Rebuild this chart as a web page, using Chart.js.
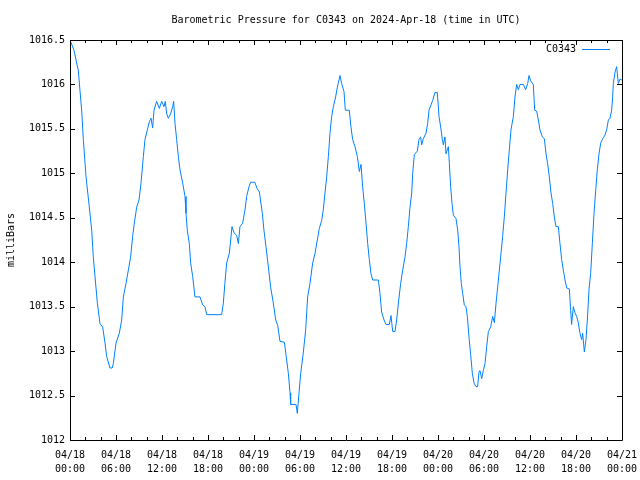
<!DOCTYPE html>
<html><head><meta charset="utf-8">
<script src="https://cdn.jsdelivr.net/npm/chart.js@4"></script>
<style>html,body{margin:0;padding:0;background:#fff}#wrap{width:640px;height:480px}</style>
</head><body><div id="wrap"><canvas id="c" width="640" height="480"></canvas></div>
<script>
const seriesName = 'C0343';
const titleText = 'Barometric Pressure for C0343 on 2024-Apr-18 (time in UTC)';
const yAxisLabel = 'milliBars';
// hours since 2024-04-18 00:00 UTC
const hours = [0,0.5,1.08,1.52,1.74,2.09,2.52,2.83,3.04,3.26,3.57,3.91,4.26,4.57,4.78,5.22,5.5,5.65,6,6.43,6.74,6.96,7.3,7.61,7.91,8.17,8.39,8.7,9,9.26,9.57,9.78,10.09,10.35,10.57,10.78,10.96,11.3,11.65,11.96,12.26,12.43,12.61,12.83,13.13,13.39,13.52,13.7,13.91,14.13,14.35,14.7,15,15.13,15.3,15.56,15.74,16,16.3,16.96,17.3,17.6,17.83,19.78,20,20.2,20.43,20.78,20.96,21.13,21.4,21.74,21.96,22.17,22.52,22.83,23.04,23.35,23.57,24.1,24.4,24.7,25.09,25.3,25.57,25.87,26.17,26.52,26.83,27.09,27.39,27.96,28.26,28.48,28.7,28.78,29.48,29.65,29.87,30.09,30.43,30.74,31,31.3,31.65,31.96,32.26,32.52,32.83,33.04,33.26,33.48,33.7,33.91,34.13,34.35,34.65,34.87,35.09,35.22,35.43,35.74,35.91,36.43,36.65,36.87,37.17,37.48,37.74,37.96,38.17,38.39,38.61,38.83,39.04,39.26,39.48,40.22,40.43,40.65,40.96,41.22,41.65,41.87,42.09,42.39,42.61,42.83,43.13,43.39,43.7,43.91,44.13,44.35,44.57,44.7,44.91,45.3,45.52,45.74,45.87,46.09,46.43,46.65,46.83,47.09,47.3,47.61,47.91,48.13,48.35,48.57,48.7,48.91,49.04,49.35,49.48,49.65,49.83,50,50.35,50.57,50.74,50.87,51.04,51.22,51.43,51.65,51.83,52.04,52.26,52.48,52.7,52.96,53.17,53.35,53.48,53.7,53.91,54.13,54.35,54.57,54.87,55.13,55.35,55.57,55.78,56,56.22,56.43,56.65,56.87,57.09,57.3,57.52,57.83,58.04,58.26,58.48,58.7,59.13,59.43,59.7,59.87,60.09,60.43,60.61,60.87,61.09,61.3,61.61,61.87,62.09,62.3,62.52,62.74,62.96,63.17,63.39,63.7,63.91,64.13,64.35,64.57,64.78,65.13,65.3,65.43,65.65,65.87,66.09,66.3,66.52,66.74,66.87,67.09,67.3,67.48,67.7,67.91,68.13,68.35,68.57,68.78,69,69.22,69.48,69.78,70,70.22,70.43,70.65,70.78,70.87,71.09,71.3,71.52,71.74,72];
const pressure = [1016.5,1016.39,1016.16,1015.71,1015.38,1014.96,1014.62,1014.36,1014.06,1013.84,1013.54,1013.31,1013.27,1013.09,1012.94,1012.81,1012.81,1012.86,1013.09,1013.2,1013.35,1013.61,1013.76,1013.91,1014.06,1014.29,1014.44,1014.62,1014.7,1014.89,1015.19,1015.38,1015.49,1015.58,1015.62,1015.51,1015.71,1015.81,1015.73,1015.81,1015.75,1015.81,1015.67,1015.62,1015.67,1015.75,1015.81,1015.56,1015.38,1015.19,1015.04,1014.89,1014.74,1014.55,1014.36,1014.21,1013.99,1013.84,1013.61,1013.61,1013.52,1013.5,1013.41,1013.41,1013.54,1013.76,1013.99,1014.1,1014.25,1014.4,1014.33,1014.3,1014.21,1014.4,1014.44,1014.59,1014.74,1014.85,1014.9,1014.9,1014.83,1014.79,1014.55,1014.36,1014.17,1013.95,1013.72,1013.54,1013.35,1013.29,1013.11,1013.1,1012.9,1012.75,1012.53,1012.4,1012.4,1012.3,1012.53,1012.75,1012.98,1013.24,1013.61,1013.76,1013.99,1014.1,1014.25,1014.38,1014.47,1014.59,1014.78,1014.96,1015.19,1015.45,1015.64,1015.75,1015.86,1015.97,1016.05,1016.1,1016.01,1015.92,1015.71,1015.71,1015.52,1015.38,1015.3,1015.19,1015.02,1015.1,1014.85,1014.66,1014.44,1014.21,1014.03,1013.87,1013.8,1013.8,1013.65,1013.44,1013.35,1013.3,1013.3,1013.4,1013.22,1013.22,1013.35,1013.54,1013.76,1013.91,1014.06,1014.21,1014.4,1014.62,1014.78,1015,1015.21,1015.25,1015.38,1015.41,1015.32,1015.39,1015.45,1015.56,1015.71,1015.77,1015.82,1015.91,1015.91,1015.64,1015.52,1015.38,1015.32,1015.41,1015.22,1015.3,1015.11,1014.85,1014.66,1014.53,1014.49,1014.36,1014.17,1013.95,1013.76,1013.65,1013.52,1013.5,1013.39,1013.16,1012.96,1012.75,1012.64,1012.6,1012.6,1012.77,1012.78,1012.69,1012.78,1012.86,1013.05,1013.22,1013.27,1013.39,1013.32,1013.54,1013.72,1013.91,1014.1,1014.29,1014.51,1014.78,1015.04,1015.26,1015.49,1015.64,1015.86,1016,1015.94,1016,1016,1015.94,1016.01,1016.1,1016.04,1016,1015.71,1015.7,1015.6,1015.49,1015.41,1015.39,1015.22,1015.11,1014.96,1014.78,1014.66,1014.51,1014.4,1014.4,1014.21,1014.03,1013.91,1013.8,1013.71,1013.7,1013.46,1013.3,1013.5,1013.43,1013.39,1013.32,1013.2,1013.13,1013.2,1012.99,1013.13,1013.35,1013.7,1013.87,1014.21,1014.55,1014.81,1015.04,1015.22,1015.34,1015.39,1015.43,1015.49,1015.6,1015.62,1015.71,1015.86,1016.01,1016.14,1016.2,1016.01,1016.06,1016.05];
const xMin = 0, xMax = 72, xMajorStep = 6, xMinorStep = 2;
const yMin = 1012, yMax = 1016.5, yStep = 0.5;
const startDay = 18;

const FONT = 'DejaVu Sans Mono';
const lineColor = 'rgb(0,128,255)';

function xLabel(h) {
  const day = startDay + Math.floor(h / 24);
  const hh = Math.round(h % 24);
  return ['04/' + day, (hh < 10 ? '0' : '') + hh + ':00'];
}

const framePlugin = {
  id: 'frame',
  afterDraw(chart) {
    const {ctx, chartArea: a, scales: {x, y}} = chart;
    ctx.save();
    ctx.strokeStyle = '#000';
    ctx.lineWidth = 1;
    ctx.beginPath();
    ctx.rect(Math.round(a.left) + 0.5, Math.round(a.top) + 0.5, Math.round(a.right - a.left) , Math.round(a.bottom - a.top));
    ctx.stroke();
    ctx.beginPath();
    for (let v = xMin; v <= xMax + 1e-9; v += xMinorStep) {
      const px = Math.round(x.getPixelForValue(v)) + 0.5;
      const len = (Math.abs(v % xMajorStep) < 1e-9) ? 5 : 3;
      ctx.moveTo(px, a.bottom); ctx.lineTo(px, a.bottom - len);
      ctx.moveTo(px, a.top); ctx.lineTo(px, a.top + len);
    }
    for (let v = yMin; v <= yMax + 1e-9; v += yStep) {
      const py = Math.round(y.getPixelForValue(v)) + 0.5;
      ctx.moveTo(a.left, py); ctx.lineTo(a.left + 5, py);
      ctx.moveTo(a.right, py); ctx.lineTo(a.right - 5, py);
    }
    ctx.stroke();
    // title
    ctx.fillStyle = '#000';
    ctx.font = '10px "' + FONT + '"';
    ctx.textAlign = 'center';
    ctx.textBaseline = 'middle';
    ctx.fillText(titleText, (a.left + a.right) / 2, 20);
    // legend
    ctx.textAlign = 'right';
    ctx.fillText(seriesName, a.right - 46, 49);
    ctx.strokeStyle = lineColor;
    ctx.beginPath();
    ctx.moveTo(a.right - 40, 49.5); ctx.lineTo(a.right - 12, 49.5);
    ctx.stroke();
    ctx.restore();
  }
};

new Chart(document.getElementById('c'), {
  type: 'line',
  data: {
    datasets: [{
      label: seriesName,
      data: hours.map((h, i) => ({x: h, y: pressure[i]})),
      borderColor: lineColor,
      borderWidth: 1,
      pointRadius: 0,
      tension: 0,
      fill: false
    }]
  },
  options: {
    responsive: false,
    animation: false,
    devicePixelRatio: 1,
    layout: {padding: {top: 40, right: 18, left: 0, bottom: 0}},
    plugins: {legend: {display: false}, title: {display: false}, tooltip: {enabled: false}},
    scales: {
      x: {
        type: 'linear', min: xMin, max: xMax,
        afterFit: s => { s.height = 40; s.paddingLeft = 0; s.paddingRight = 0; },
        grid: {display: false, drawTicks: false},
        border: {display: false},
        ticks: {
          stepSize: xMajorStep, autoSkip: false, maxRotation: 0, padding: 8,
          color: '#000', font: {family: FONT, size: 10, lineHeight: 1.4},
          callback: v => xLabel(v)
        }
      },
      y: {
        min: yMin, max: yMax,
        afterFit: s => { s.width = 70; s.paddingTop = 0; s.paddingBottom = 0; },
        grid: {display: false, drawTicks: false},
        border: {display: false},
        title: {display: true, text: yAxisLabel, color: '#000', font: {family: FONT, size: 10}, padding: {top: 5, bottom: 0}},
        ticks: {
          stepSize: yStep, autoSkip: false, padding: 5,
          color: '#000', font: {family: FONT, size: 10},
          callback: v => String(v)
        }
      }
    }
  },
  plugins: [framePlugin]
});
</script>
</body></html>
